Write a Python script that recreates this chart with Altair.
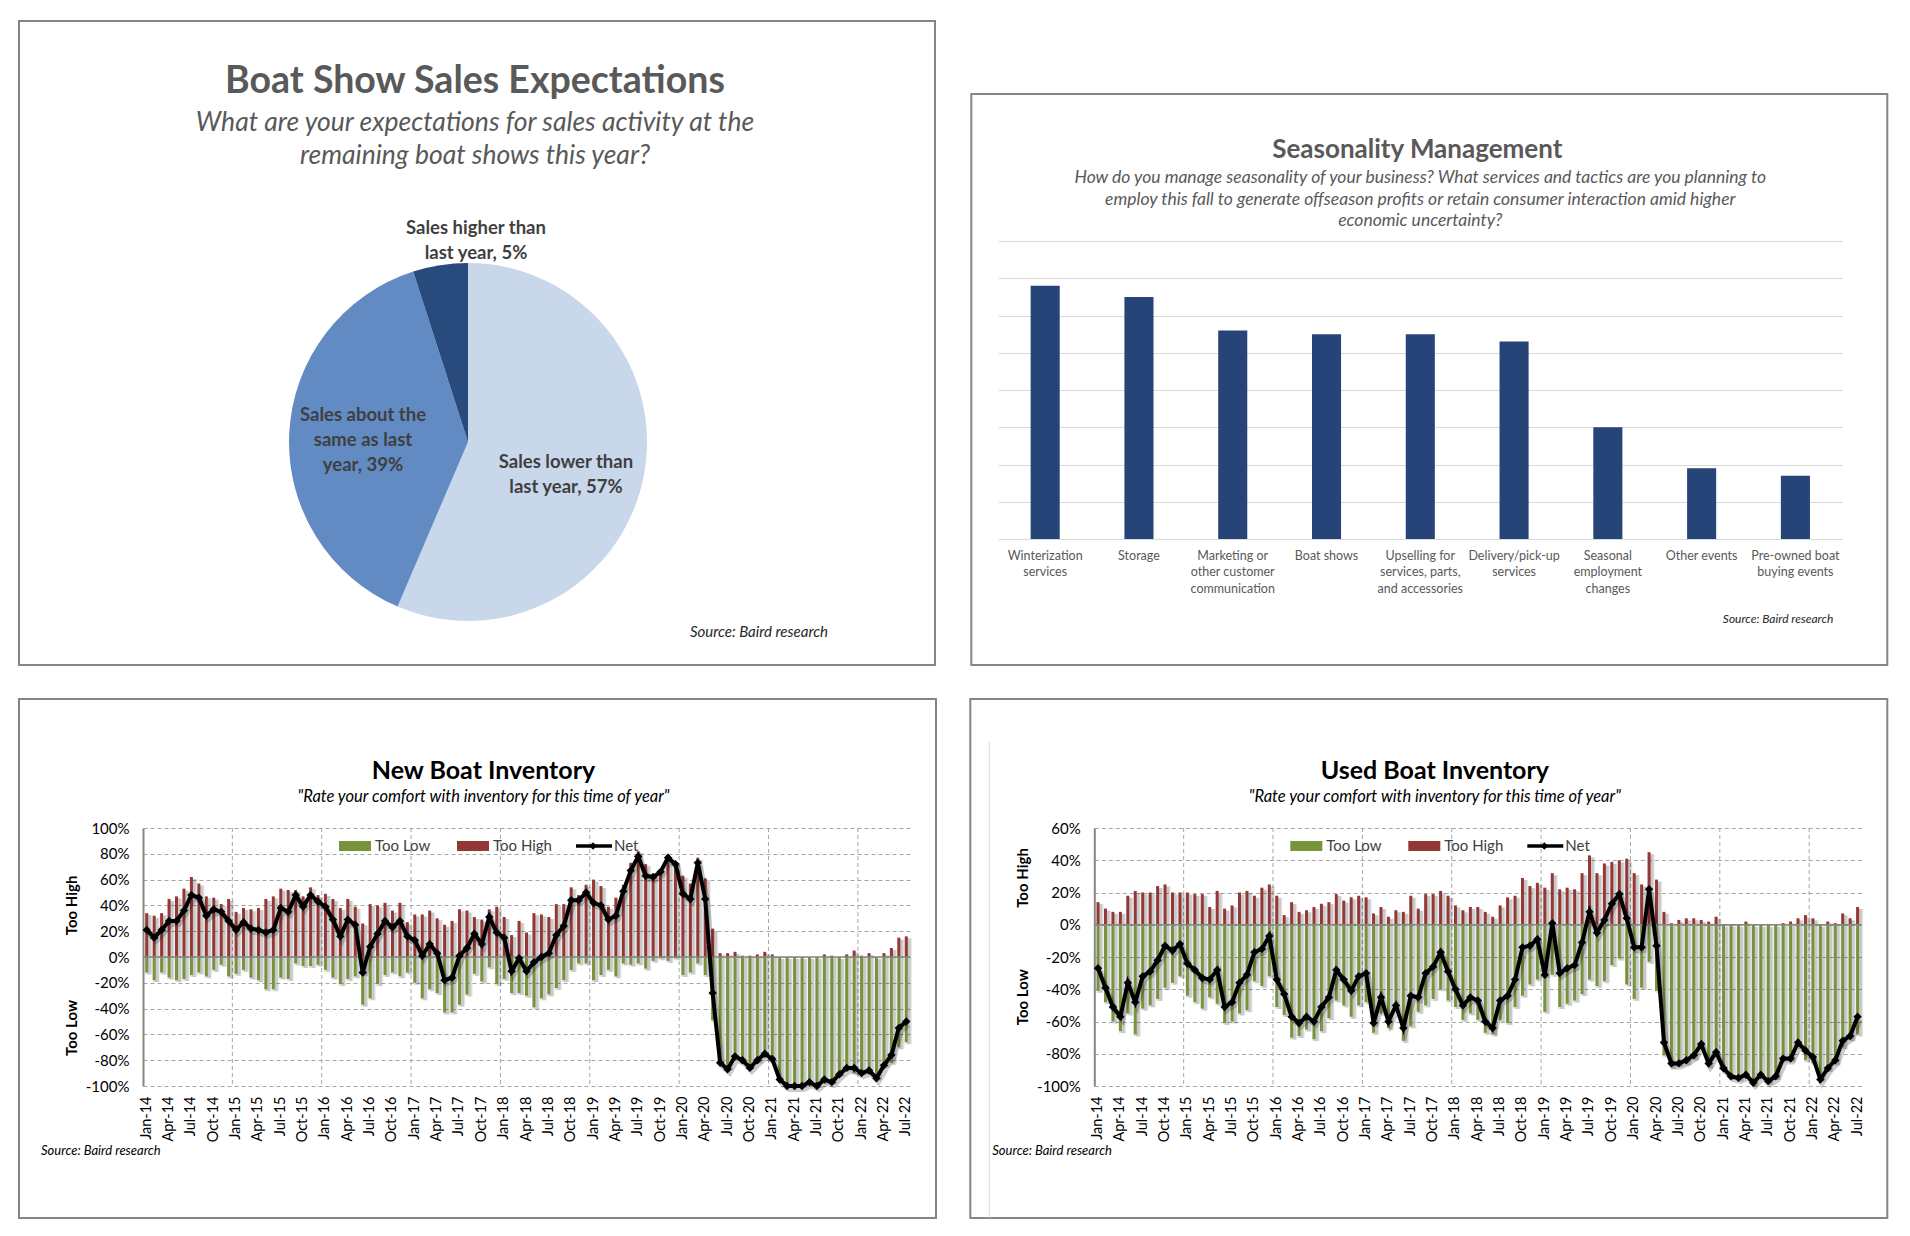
import altair as alt
import pandas as pd

FONT = "Lato"

# ---------------- Panel 1: pie ----------------
PIE_CATS = ["Sales lower than last year", "Sales about the same as last year", "Sales higher than last year"]
PIE_VALUES = [57, 39, 5]
PIE_LABELS = ["Sales lower than\nlast year, 57%", "Sales about the\nsame as last\nyear, 39%", "Sales higher than\nlast year, 5%"]
PIE_ORDER = [0, 1, 2]
PIE_COLORS = ["#C9D7EB", "#628BC4", "#284A7C"]

# ---------------- Panel 2: bars ----------------
SEASON_CATS = ["Winterization|services", "Storage", "Marketing or|other customer|communication",
               "Boat shows", "Upselling for|services, parts,|and accessories", "Delivery/pick-up|services",
               "Seasonal|employment|changes", "Other events", "Pre-owned boat|buying events"]
SEASON_VALUES = [68, 65, 56, 55, 55, 53, 30, 19, 17]

# ---------------- Panels 3/4: inventory ----------------
MONTH_NAMES = ["Jan", "Feb", "Mar", "Apr", "May", "Jun", "Jul", "Aug", "Sep", "Oct", "Nov", "Dec"]
MONTHS = [f"{m}-{y}" for y in range(14, 23) for m in MONTH_NAMES][:103]
YEAR_STARTS = [f"Jan-{y}" for y in range(15, 23)]
MONTH_TICKS = MONTHS[::3]

NEW_HIGH = [34, 32, 34, 45, 47, 53, 62, 57, 47, 46, 41, 45,
            35, 38, 37, 38, 45, 47, 53, 52, 52, 47, 54, 48,
            49, 45, 38, 45, 39, 26, 41, 40, 42, 36, 42, 27,
            33, 33, 36, 30, 25, 28, 37, 36, 31, 29, 37, 39,
            31, 17, 28, 19, 34, 33, 31, 41, 41, 54, 48, 56,
            60, 55, 39, 46, 56, 73, 82, 72, 63, 68, 79, 73,
            63, 57, 77, 61, 22, 3, 3, 4, 1, 1, 2, 4,
            2, 0, 0, 0, 0, 0, 0, 2, 1, 0, 2, 5,
            1, 3, 0, 3, 7, 15, 16]
NEW_LOW = [12, 18, 12, 16, 18, 17, 14, 12, 15, 10, 6, 15,
           13, 10, 16, 18, 25, 25, 16, 17, 5, 7, 7, 6,
           10, 16, 21, 17, 15, 37, 32, 21, 14, 12, 15, 12,
           20, 32, 25, 28, 43, 43, 37, 29, 13, 19, 8, 21,
           17, 28, 28, 30, 39, 32, 29, 24, 18, 10, 5, 5,
           18, 14, 10, 15, 5, 6, 5, 9, 3, 1, 3, 1,
           14, 12, 5, 14, 49, 82, 86, 79, 80, 85, 81, 76,
           80, 94, 99, 100, 100, 97, 100, 97, 97, 91, 87, 90,
           90, 89, 94, 84, 82, 70, 66]
NEW_NET = [21, 15, 21, 28, 28, 36, 48, 46, 32, 37, 35, 28,
           21, 27, 22, 21, 19, 21, 38, 35, 48, 39, 48, 43,
           39, 29, 16, 29, 25, -12, 8, 18, 28, 23, 28, 16,
           13, 1, 10, 3, -18, -16, 1, 7, 18, 10, 31, 19,
           15, -11, -1, -11, -4, 0, 3, 17, 24, 44, 44, 50,
           42, 40, 29, 32, 51, 67, 78, 63, 62, 66, 77, 72,
           49, 45, 73, 45, -28, -82, -87, -77, -80, -86, -80, -75,
           -79, -95, -100, -100, -100, -97, -100, -95, -97, -91, -86, -86,
           -90, -88, -94, -84, -76, -55, -50]

USED_HIGH = [14, 10, 8, 8, 18, 21, 20, 20, 24, 25, 20, 20,
             20, 19, 19, 11, 21, 10, 12, 20, 21, 18, 23, 25,
             18, 6, 14, 8, 9, 11, 13, 14, 19, 15, 17, 18,
             17, 7, 11, 5, 9, 8, 18, 10, 19, 19, 21, 18,
             12, 9, 11, 11, 8, 5, 12, 17, 18, 29, 24, 26,
             23, 32, 22, 23, 22, 32, 43, 32, 38, 39, 40, 41,
             32, 25, 45, 28, 8, 1, 3, 4, 4, 3, 2, 5,
             0, 0, 0, 2, 0, 0, 0, 0, 1, 2, 4, 6,
             4, 0, 2, 1, 7, 4, 11]
USED_LOW = [41, 48, 60, 66, 55, 68, 52, 50, 46, 39, 36, 32,
            44, 48, 52, 45, 49, 61, 60, 55, 53, 35, 38, 32,
            51, 56, 70, 69, 65, 71, 66, 58, 47, 50, 57, 50,
            48, 67, 55, 64, 53, 72, 63, 54, 50, 46, 40, 47,
            51, 59, 55, 59, 67, 68, 59, 61, 51, 44, 37, 34,
            54, 31, 51, 49, 47, 43, 34, 38, 35, 25, 21, 37,
            46, 39, 23, 41, 81, 88, 87, 86, 83, 77, 88, 82,
            90, 95, 96, 94, 99, 94, 98, 95, 84, 84, 76, 84,
            86, 96, 90, 86, 76, 71, 68]
USED_NET = [-27, -39, -51, -57, -36, -48, -32, -29, -22, -13, -16, -12,
            -24, -28, -33, -34, -28, -51, -48, -36, -31, -17, -15, -7,
            -34, -43, -57, -61, -57, -60, -51, -45, -28, -34, -41, -32,
            -30, -61, -45, -60, -50, -64, -44, -45, -30, -26, -17, -29,
            -40, -50, -45, -47, -60, -64, -47, -44, -34, -14, -13, -9,
            -31, 1, -30, -27, -25, -11, 8, -5, 3, 13, 19, 4,
            -14, -14, 22, -13, -73, -86, -86, -84, -81, -74, -86, -79,
            -89, -94, -95, -93, -98, -93, -97, -94, -83, -83, -73, -78,
            -82, -96, -89, -84, -72, -69, -57]

GREEN = "#77933C"
RED = "#953735"
BORDER = "#858585"
GRID = "#A6A6A6"


def one():
    return alt.Data(values=[{"k": 0}])


def border(x, x2, y, y2):
    return alt.Chart(one()).mark_rect(filled=False, stroke=BORDER, strokeWidth=2).encode(
        x=alt.value(x), x2=alt.value(x2), y=alt.value(y), y2=alt.value(y2))


def label(text, x, y, size, align="left", color="#000000", weight="normal", style="normal", angle=0):
    return alt.Chart(one()).mark_text(font=FONT, fontSize=size, align=align, baseline="middle", color=color,
                                      fontWeight=weight, fontStyle=style, angle=angle).encode(
        x=alt.value(x), y=alt.value(y), text=alt.value(text))


# ---------- Panel 1 ----------
pie_df = pd.DataFrame({"cat": PIE_CATS, "value": PIE_VALUES, "label": PIE_LABELS, "order": PIE_ORDER})
PCX, PCY = 325, 201
PIE_FS = 18.5
arcs = alt.Chart(pie_df).mark_arc(radius=179).encode(
    theta=alt.Theta("value:Q", stack=True),
    color=alt.Color("cat:N", scale=alt.Scale(domain=PIE_CATS, range=PIE_COLORS), legend=None),
    order=alt.Order("order:Q"),
    x=alt.value(PCX), y=alt.value(PCY))
# label of the largest slice placed at its angular midpoint
pie_text = alt.Chart(pie_df).mark_text(radius=100, font=FONT, fontSize=PIE_FS, fontWeight="bold", color="#3F3F3F",
                                       lineBreak="\n", lineHeight=25, align="center", baseline="middle").encode(
    theta=alt.Theta("value:Q", stack=True),
    order=alt.Order("order:Q"),
    text=alt.condition("datum.value > 50", alt.Text("label:N"), alt.value("")),
    x=alt.value(PCX), y=alt.value(PCY))


def pie_label(idx, x, y):
    return alt.Chart(pie_df).transform_filter(f"datum.order == {idx}").mark_text(
        font=FONT, fontSize=PIE_FS, fontWeight="bold", color="#3F3F3F", lineBreak="\n", lineHeight=25,
        align="center", baseline="middle").encode(text="label:N", x=alt.value(x), y=alt.value(y))


GREY_T = "#595959"
p1 = alt.layer(
    border(-124, 792, -220, 424), arcs, pie_text, pie_label(1, 220, 174), pie_label(2, 333, -13),
    label("Boat Show Sales Expectations", 332, -159, 37.5, align="center", color=GREY_T, weight="bold"),
    label("What are your expectations for sales activity at the", 332, -118, 26.5, align="center",
          color=GREY_T, style="italic"),
    label("remaining boat shows this year?", 332, -85, 26.5, align="center", color=GREY_T, style="italic"),
    label("Source: Baird research", 685, 391, 15, align="right", color="#262626", style="italic"),
).properties(width=504, height=402)

# ---------- Panel 2 ----------
season_df = pd.DataFrame({"cat": SEASON_CATS, "value": SEASON_VALUES})
bars2 = alt.Chart(season_df).mark_bar(color="#264478").encode(
    x=alt.X("cat:N", sort=SEASON_CATS,
            scale=alt.Scale(paddingInner=0.69, paddingOuter=0.345),
            axis=alt.Axis(title=None, labelExpr="split(datum.label, '|')", labelAngle=0, labelFont=FONT,
                          labelFontSize=12.5, labelColor="#595959", labelLineHeight=16.5, domain=False,
                          ticks=False, labelPadding=10)),
    y=alt.Y("value:Q", scale=alt.Scale(domain=[0, 80], nice=False),
            axis=alt.Axis(title=None, labels=False, ticks=False, domain=False, values=list(range(0, 81, 10)),
                          grid=True, gridColor="#D9D9D9", gridWidth=1)))
p2 = alt.layer(
    border(-27, 889, -147, 424), bars2,
    label("Seasonality Management", 419, -91, 26, align="center", color=GREY_T, weight="bold"),
    label("How do you manage seasonality of your business? What services and tactics are you planning to",
          422, -63, 17.5, align="center", color=GREY_T, style="italic"),
    label("employ this fall to generate offseason profits or retain consumer interaction amid higher",
          422, -41.5, 17.5, align="center", color=GREY_T, style="italic"),
    label("economic uncertainty?", 422, -20, 17.5, align="center", color=GREY_T, style="italic"),
    label("Source: Baird research", 835, 378, 12, align="right", color="#262626", style="italic"),
).properties(width=844, height=298)


# ---------- Panels 3/4 ----------
def inventory(title, high, low, net, ymin, ymax, high_pos, low_pos, side_line=False):
    n = len(MONTHS)
    df = pd.DataFrame({"month": MONTHS * 3,
                       "series": ["Too High"] * n + ["Too Low"] * n + ["Net"] * n,
                       "value": list(high) + [-v for v in low] + list(net)})
    xscale = alt.Scale(domain=MONTHS, paddingInner=0, paddingOuter=0)
    xaxis = alt.Axis(values=MONTH_TICKS, labelAngle=270, title=None, domain=False, ticks=False,
                     labelFont=FONT, labelFontSize=14.5, labelColor="#000000", labelPadding=10,
                     grid=False, labelOverlap=False)
    yscale = alt.Scale(domain=[ymin, ymax], nice=False, zero=False)
    yaxis = alt.Axis(values=list(range(ymin, ymax + 1, 20)), labelExpr="datum.value + '%'", title=None,
                     grid=True, gridDash=[4, 3], gridColor=GRID, ticks=False, domainColor="#868686",
                     domainWidth=2, labelFont=FONT, labelFontSize=15, labelColor="#000000", labelPadding=14,
                     labelOverlap=False, labelSeparation=0, labelBound=False, labelFlush=False)

    def X(**kw):
        return alt.X("month:N", scale=xscale, axis=xaxis, **kw)

    def Y(**kw):
        return alt.Y("value:Q", scale=yscale, axis=yaxis, **kw)

    vgrid = alt.Chart(pd.DataFrame({"month": YEAR_STARTS})).mark_rule(
        color=GRID, strokeDash=[4, 3], strokeWidth=1).encode(x=X(bandPosition=0))
    bars_base = alt.Chart(df).transform_filter("datum.series != 'Net'")
    shadow1 = bars_base.mark_bar(color="#000000", opacity=0.10, width=alt.RelativeBandSize(0.95),
                                 xOffset=2, yOffset=2, y2Offset=2).encode(x=X(), y=Y())
    shadow2 = bars_base.mark_bar(color="#000000", opacity=0.12, width=alt.RelativeBandSize(0.5),
                                 xOffset=2.5, yOffset=2, y2Offset=2).encode(x=X(), y=Y())
    bars = bars_base.mark_bar(width=alt.RelativeBandSize(0.4)).encode(
        x=X(), y=Y(),
        color=alt.Color("series:N", scale=alt.Scale(domain=["Too Low", "Too High"], range=[GREEN, RED]),
                        legend=None))
    # zero line: value 0 mapped through the y scale
    zero = alt.Chart(pd.DataFrame({"value": [0]})).mark_rule(color="#868686", strokeWidth=1.5).encode(y=Y())
    net_base = alt.Chart(df).transform_filter("datum.series == 'Net'")
    line_shadow = net_base.mark_line(color="#000000", opacity=0.2, strokeWidth=6, xOffset=2, yOffset=3).encode(
        x=X(), y=Y())
    line = net_base.mark_line(color="#000000", strokeWidth=4).encode(x=X(), y=Y())
    pts = net_base.mark_point(shape="diamond", filled=True, size=70, color="#000000", opacity=1).encode(
        x=X(), y=Y())

    ly = 18
    leg = [
        alt.Chart(one()).mark_rect(color=GREEN).encode(x=alt.value(196), x2=alt.value(228),
                                                        y=alt.value(ly - 5), y2=alt.value(ly + 5)),
        label("Too Low", 232, ly, 15, color="#404040"),
        alt.Chart(one()).mark_rect(color=RED).encode(x=alt.value(314), x2=alt.value(346),
                                                      y=alt.value(ly - 5), y2=alt.value(ly + 5)),
        label("Too High", 350, ly, 15, color="#404040"),
        alt.Chart(one()).mark_rule(color="#000000", strokeWidth=3.5).encode(x=alt.value(433), x2=alt.value(469),
                                                                              y=alt.value(ly)),
        alt.Chart(one()).mark_point(shape="diamond", filled=True, size=60, color="#000000", opacity=1).encode(
            x=alt.value(450), y=alt.value(ly)),
        label("Net", 471, ly, 15, color="#404040"),
    ]
    side = pd.DataFrame({"value": [high_pos, low_pos], "txt": ["Too High", "Too Low"]})
    side_text = alt.Chart(side).mark_text(font=FONT, fontSize=15, fontWeight="bold", angle=270, align="center",
                                          baseline="middle", color="#000000").encode(
        x=alt.value(-71), y=Y(), text="txt:N")
    extras = [
        label(title, 340.5, -57, 25, align="center", weight="bold"),
        label('"Rate your comfort with inventory for this time of year"', 340.5, -31, 16.5, align="center",
              style="italic"),
        side_text,
        label("Source: Baird research", -102, 323, 13, style="italic", color="#000000"),
    ]
    layers = [border(-124, 793, -129, 390)]
    if side_line:
        layers.append(alt.Chart(one()).mark_rule(color="#D9D9D9", strokeWidth=1).encode(
            x=alt.value(-105), y=alt.value(-86), y2=alt.value(390)))
    layers += [vgrid, shadow1, shadow2, bars, zero, line_shadow, line, pts] + leg + extras
    return alt.layer(*layers).properties(width=767, height=258)


p3 = inventory("New Boat Inventory", NEW_HIGH, NEW_LOW, NEW_NET, -100, 100, 40, -55)
p4 = inventory("Used Boat Inventory", USED_HIGH, USED_LOW, USED_NET, -100, 60, 29, -45, side_line=True)

RES = dict(x="independent", y="independent", color="independent", theta="independent")
row1 = alt.hconcat(p1, p2, spacing=351.3, bounds="flush").resolve_scale(**RES)
row2 = alt.hconcat(p3, p4, spacing=184.3, bounds="flush").resolve_scale(**RES)
chart = alt.vconcat(row1, row2, spacing=32).resolve_scale(**RES).properties(
    padding={"left": 10, "top": 12, "right": 5, "bottom": 5},
    background="white",
).configure_view(stroke=None).configure_axis(labelFont=FONT, labelOverlap=False)

chart.save("out.html", embed_options={"renderer": "svg", "actions": False})
